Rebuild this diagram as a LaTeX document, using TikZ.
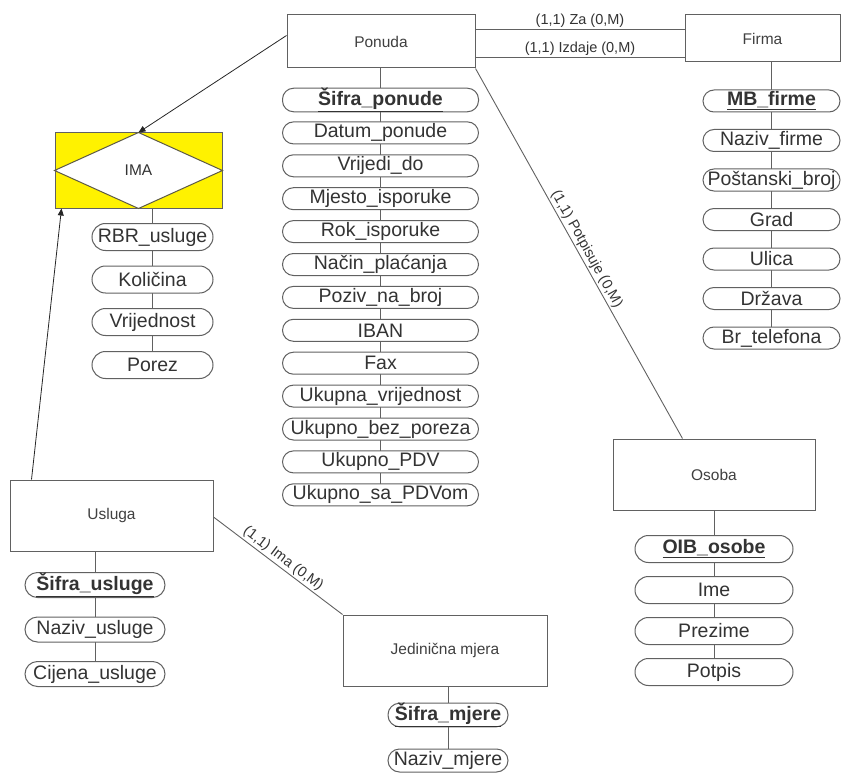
\documentclass[tikz,border=0pt]{standalone}
\usepackage{fontspec}
\setmainfont{Liberation Sans}
\usetikzlibrary{arrows.meta,backgrounds}
\begin{document}
\begin{tikzpicture}[x=1pt,y=-1pt,
  ln/.style={draw=black!62, line width=0.9pt},
  entity/.style={draw=black!62, line width=1pt, fill=white, inner sep=0pt,
    text=black!75, font=\fontsize{15.5}{17}\selectfont},
  pill/.style n args={2}{draw=black!62, line width=1pt, fill=white, inner sep=0pt,
    minimum width=#1, minimum height=#2, text=black!80,
    font=\fontsize{19.5}{21}\selectfont},
  rel/.style={text=black!80, font=\fontsize{14.5}{16}\selectfont, inner sep=1.5pt},
  arr/.style={draw=black!85, line width=0.8pt, -{Triangle[length=7pt,width=6pt]}}
]
\useasboundingbox (0,0) rectangle (841,773);

% entities
\node[entity, minimum width=188, minimum height=53] (ponuda) at (381,41.5) {Ponuda};
\node[entity, minimum width=155, minimum height=47] (firma) at (762.5,38.5) {Firma};
\node[entity, minimum width=203, minimum height=71] (usluga) at (111.5,515.5) {Usluga};
\node[entity, minimum width=204, minimum height=71] (jed) at (445,650.5) {Jedinična mjera};
\node[entity, minimum width=202, minimum height=71] (osoba) at (714,474.5) {Osoba};

% IMA relationship
\node[draw=black!62, line width=1pt, fill=yellow, inner sep=0pt,
      minimum width=167, minimum height=75] (ima) at (138.5,170.5) {};
\draw[draw=black!55!yellow!60!black, line width=1pt, fill=white]
  (ima.north) -- (ima.east) -- (ima.south) -- (ima.west) -- cycle;
\node[rel, font=\fontsize{15.5}{17}\selectfont] (imalbl) at (ima.center) {IMA};

% Ponuda attributes
\begin{scope}[every node/.append style={pill={196}{22}, rounded corners=11pt}]
\node (p1) at (380.5,100.0) {\bfseries\underline{Šifra\_ponude}};
\node (p2) at (380.5,132.9) {Datum\_ponude};
\node (p3) at (380.5,165.8) {Vrijedi\_do};
\node (p4) at (380.5,198.7) {Mjesto\_isporuke};
\node (p5) at (380.5,231.6) {Rok\_isporuke};
\node (p6) at (380.5,264.5) {Način\_plaćanja};
\node (p7) at (380.5,297.4) {Poziv\_na\_broj};
\node (p8) at (380.5,330.3) {IBAN};
\node (p9) at (380.5,363.2) {Fax};
\node (p10) at (380.5,396.1) {Ukupna\_vrijednost};
\node (p11) at (380.5,429.0) {Ukupno\_bez\_poreza};
\node (p12) at (380.5,461.9) {Ukupno\_PDV};
\node (p13) at (380.5,494.8) {Ukupno\_sa\_PDVom};
\end{scope}

% Firma attributes
\begin{scope}[every node/.append style={pill={137}{22}, rounded corners=11pt}]
\node (f1) at (771.5,101.0) {\bfseries\underline{MB\_firme}};
\node (f2) at (771.5,140.5) {Naziv\_firme};
\node (f3) at (771.5,180.0) {Poštanski\_broj};
\node (f4) at (771.5,219.5) {Grad};
\node (f5) at (771.5,259.0) {Ulica};
\node (f6) at (771.5,298.5) {Država};
\node (f7) at (771.5,338.0) {Br\_telefona};
\end{scope}

% IMA attributes
\begin{scope}[every node/.append style={pill={121}{27}, rounded corners=13.5pt}]
\node (i1) at (152.5,237.0) {RBR\_usluge};
\node (i2) at (152.5,279.5) {Količina};
\node (i3) at (152.5,322.0) {Vrijednost};
\node (i4) at (152.5,365.0) {Porez};
\end{scope}

% Osoba attributes
\begin{scope}[every node/.append style={pill={158}{27}, rounded corners=13.5pt}]
\node (o1) at (714,549) {\bfseries\underline{OIB\_osobe}};
\node (o2) at (714,590) {Ime};
\node (o3) at (714,631) {Prezime};
\node (o4) at (714,672) {Potpis};
\end{scope}

% Usluga attributes
\begin{scope}[every node/.append style={pill={140}{25}, rounded corners=12.5pt}]
\node (u1) at (95,585.0) {\bfseries\underline{Šifra\_usluge}};
\node (u2) at (95,629.5) {Naziv\_usluge};
\node (u3) at (95,674.0) {Cijena\_usluge};
\end{scope}

% Jedinicna mjera attributes
\begin{scope}[every node/.append style={pill={120}{23}, rounded corners=11.5pt}]
\node (j1) at (448,715) {\bfseries\underline{Šifra\_mjere}};
\node (j2) at (448,760.5) {Naziv\_mjere};
\end{scope}

% attribute spines
\begin{scope}[on background layer]
\draw[ln] (p1.center |- ponuda.south) -- (p13.center);
\draw[ln] (f1.center |- firma.south) -- (f7.center);
\draw[ln] (i1.center |- ima.south) -- (i4.center);
\draw[ln] (o1.center |- osoba.south) -- (o4.center);
\draw[ln] (u1.center |- usluga.south) -- (u3.center);
\draw[ln] (j1.center |- jed.south) -- (j2.center);
\end{scope}

% relationships
\draw[ln] ([yshift=12.5]ponuda.east) -- node[rel, above] {(1,1) Za (0,M)} ([yshift=12.5]ponuda.east -| firma.west);
\draw[ln] ([yshift=-15.5]ponuda.east) -- node[rel, above] {(1,1) Izdaje (0,M)} ([yshift=-15.5]ponuda.east -| firma.west);
\draw[ln] (ponuda.south east) -- node[rel, sloped, above, pos=0.5] {(1,1) Potpisuje (0,M)} ([xshift=70]osoba.north west);
\draw[ln] ([yshift=-1.5]usluga.east) -- node[rel, sloped, above, pos=0.5] {(1,1) Ima (0,M)} (jed.north west);

% arrows into IMA
\draw[arr] ([yshift=6]ponuda.west) -- (ima.north);
\draw[arr] ([xshift=22]usluga.north west) -- ([xshift=7]ima.south west);
\end{tikzpicture}
\end{document}
